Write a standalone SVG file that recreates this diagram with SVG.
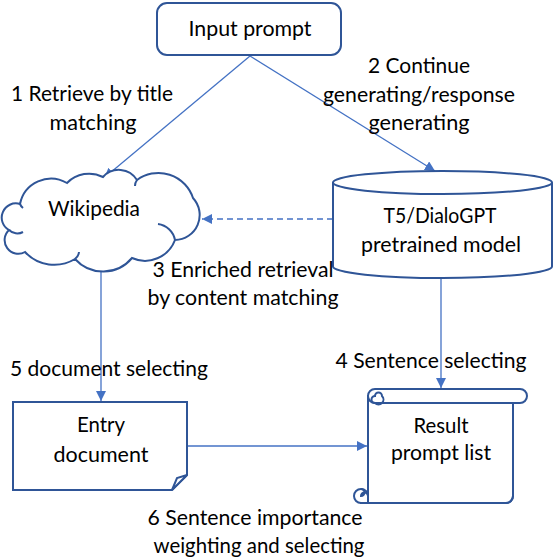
<svg xmlns="http://www.w3.org/2000/svg" width="554" height="558" viewBox="0 0 554 558">
<style>
text{font-family:Lato,"Liberation Sans",sans-serif;font-size:21px;fill:#000;text-anchor:middle}
.node{fill:#fff;stroke:#2F5597;stroke-width:2}
.thin{fill:none;stroke:#2F5597;stroke-width:2}
.edge{fill:none;stroke:#4472C4;stroke-width:1.3}
</style>
<defs>
<marker id="ah" markerWidth="10" markerHeight="10" viewBox="0 0 10 10" refX="10" refY="5" orient="auto" markerUnits="userSpaceOnUse">
<path d="M0,0 L10,5 L0,10 Z" fill="#4472C4"/>
</marker>
</defs>
<rect width="554" height="558" fill="#fff"/>

<g id="connectors">
<line class="edge" x1="250" y1="56" x2="104" y2="178" marker-end="url(#ah)"/>
<line class="edge" x1="250" y1="56" x2="435" y2="171" marker-end="url(#ah)"/>
<line class="edge" x1="333" y1="219" x2="202" y2="219" stroke-dasharray="6,4" marker-end="url(#ah)"/>
<line class="edge" x1="101" y1="272" x2="101" y2="401" marker-end="url(#ah)"/>
<line class="edge" x1="441" y1="278" x2="441" y2="388" marker-end="url(#ah)"/>
<line class="edge" x1="187" y1="446" x2="367" y2="446" marker-end="url(#ah)"/>
</g>

<g id="input-prompt">
<rect class="node" x="157" y="3" width="184" height="52" rx="10"/>
<text x="250" y="36" textLength="123" lengthAdjust="spacingAndGlyphs">Input prompt</text>
</g>

<g id="wikipedia">
<path class="node" d="M20,204 A31.6,31.6 0 0 1 67,183 A30.7,30.7 0 0 1 103,177 A21.2,21.2 0 0 1 137,180 A36.3,36.3 0 0 1 193,198 A25,25 0 0 1 175,240 A32,32 0 0 1 132,258 A37.7,37.7 0 0 1 75,259 A39.9,39.9 0 0 1 25,252 A13.7,13.7 0 0 1 9,230 A14.2,14.2 0 0 1 20,204 Z"/>
<path class="thin" d="M158,224 A20,20 0 0 1 175,240 M9,230 A12,12 0 0 0 23,232 M75,259 A10,10 0 0 0 79,252 M20,204 A10,10 0 0 0 23,208 M137,180 A10,10 0 0 0 135,186"/>
<text x="94" y="216" textLength="92" lengthAdjust="spacingAndGlyphs">Wikipedia</text>
</g>

<g id="t5-dialogpt">
<path class="node" d="M333,182.5 V266.5 A109.5,11.5 0 0 0 552,266.5 V182.5 A109.5,11.5 0 0 0 333,182.5 Z"/>
<path class="thin" d="M333,182.5 A109.5,11.5 0 0 0 552,182.5"/>
<text x="440" y="223" textLength="113" lengthAdjust="spacingAndGlyphs">T5/DialoGPT</text>
<text x="441" y="252" textLength="160" lengthAdjust="spacingAndGlyphs">pretrained model</text>
</g>

<g id="entry-document">
<path class="node" d="M13,402 H187 V475 L172,490 H13 Z"/>
<path class="node" d="M172,490 L177,478 L187,475 Z"/>
<text x="101" y="432" textLength="48" lengthAdjust="spacingAndGlyphs">Entry</text>
<text x="101" y="462" textLength="95" lengthAdjust="spacingAndGlyphs">document</text>
</g>

<g id="result-prompt-list">
<path class="node" d="M368,396 H513 V496 A7,7 0 0 1 506,503 H361 V496 H368 Z" stroke="none"/>
<path class="thin" d="M368,396 V496 M361,503 H506 A7,7 0 0 0 513,496 V403"/>
<path class="node" d="M375,389 H520 A7,7 0 0 1 520,403 H375 A7,7 0 0 1 375,389 Z"/>
<path class="thin" d="M375,403 A3.5,3.5 0 0 1 375,396 A3.5,3.5 0 0 1 382,396 A3.5,3.5 0 0 1 375,403"/>
<path class="node" d="M361,503 A7,7 0 0 1 361,489 A7,7 0 0 1 368,496 V503 Z"/>
<path class="thin" d="M361,489 A3.5,3.5 0 0 1 361,496 A3.5,3.5 0 0 1 368,496"/>
<text x="441" y="433" textLength="55" lengthAdjust="spacingAndGlyphs">Result</text>
<text x="441" y="460" textLength="100" lengthAdjust="spacingAndGlyphs">prompt list</text>
</g>

<g id="labels">
<text x="92" y="101" textLength="162" lengthAdjust="spacingAndGlyphs">1 Retrieve by title</text>
<text x="93" y="130" textLength="87" lengthAdjust="spacingAndGlyphs">matching</text>
<text x="419" y="73" textLength="102" lengthAdjust="spacingAndGlyphs">2 Continue</text>
<text x="419" y="102" textLength="192" lengthAdjust="spacingAndGlyphs">generating/response</text>
<text x="419" y="130" textLength="101" lengthAdjust="spacingAndGlyphs">generating</text>
<text x="243" y="277" textLength="181" lengthAdjust="spacingAndGlyphs">3 Enriched retrieval</text>
<text x="243" y="305" textLength="191" lengthAdjust="spacingAndGlyphs">by content matching</text>
<text x="431" y="368" textLength="191" lengthAdjust="spacingAndGlyphs">4 Sentence selecting</text>
<text x="109" y="376" textLength="198" lengthAdjust="spacingAndGlyphs">5 document selecting</text>
<text x="255" y="525" textLength="215" lengthAdjust="spacingAndGlyphs">6 Sentence importance</text>
<text x="259" y="553" textLength="211" lengthAdjust="spacingAndGlyphs">weighting and selecting</text>
</g>
</svg>
